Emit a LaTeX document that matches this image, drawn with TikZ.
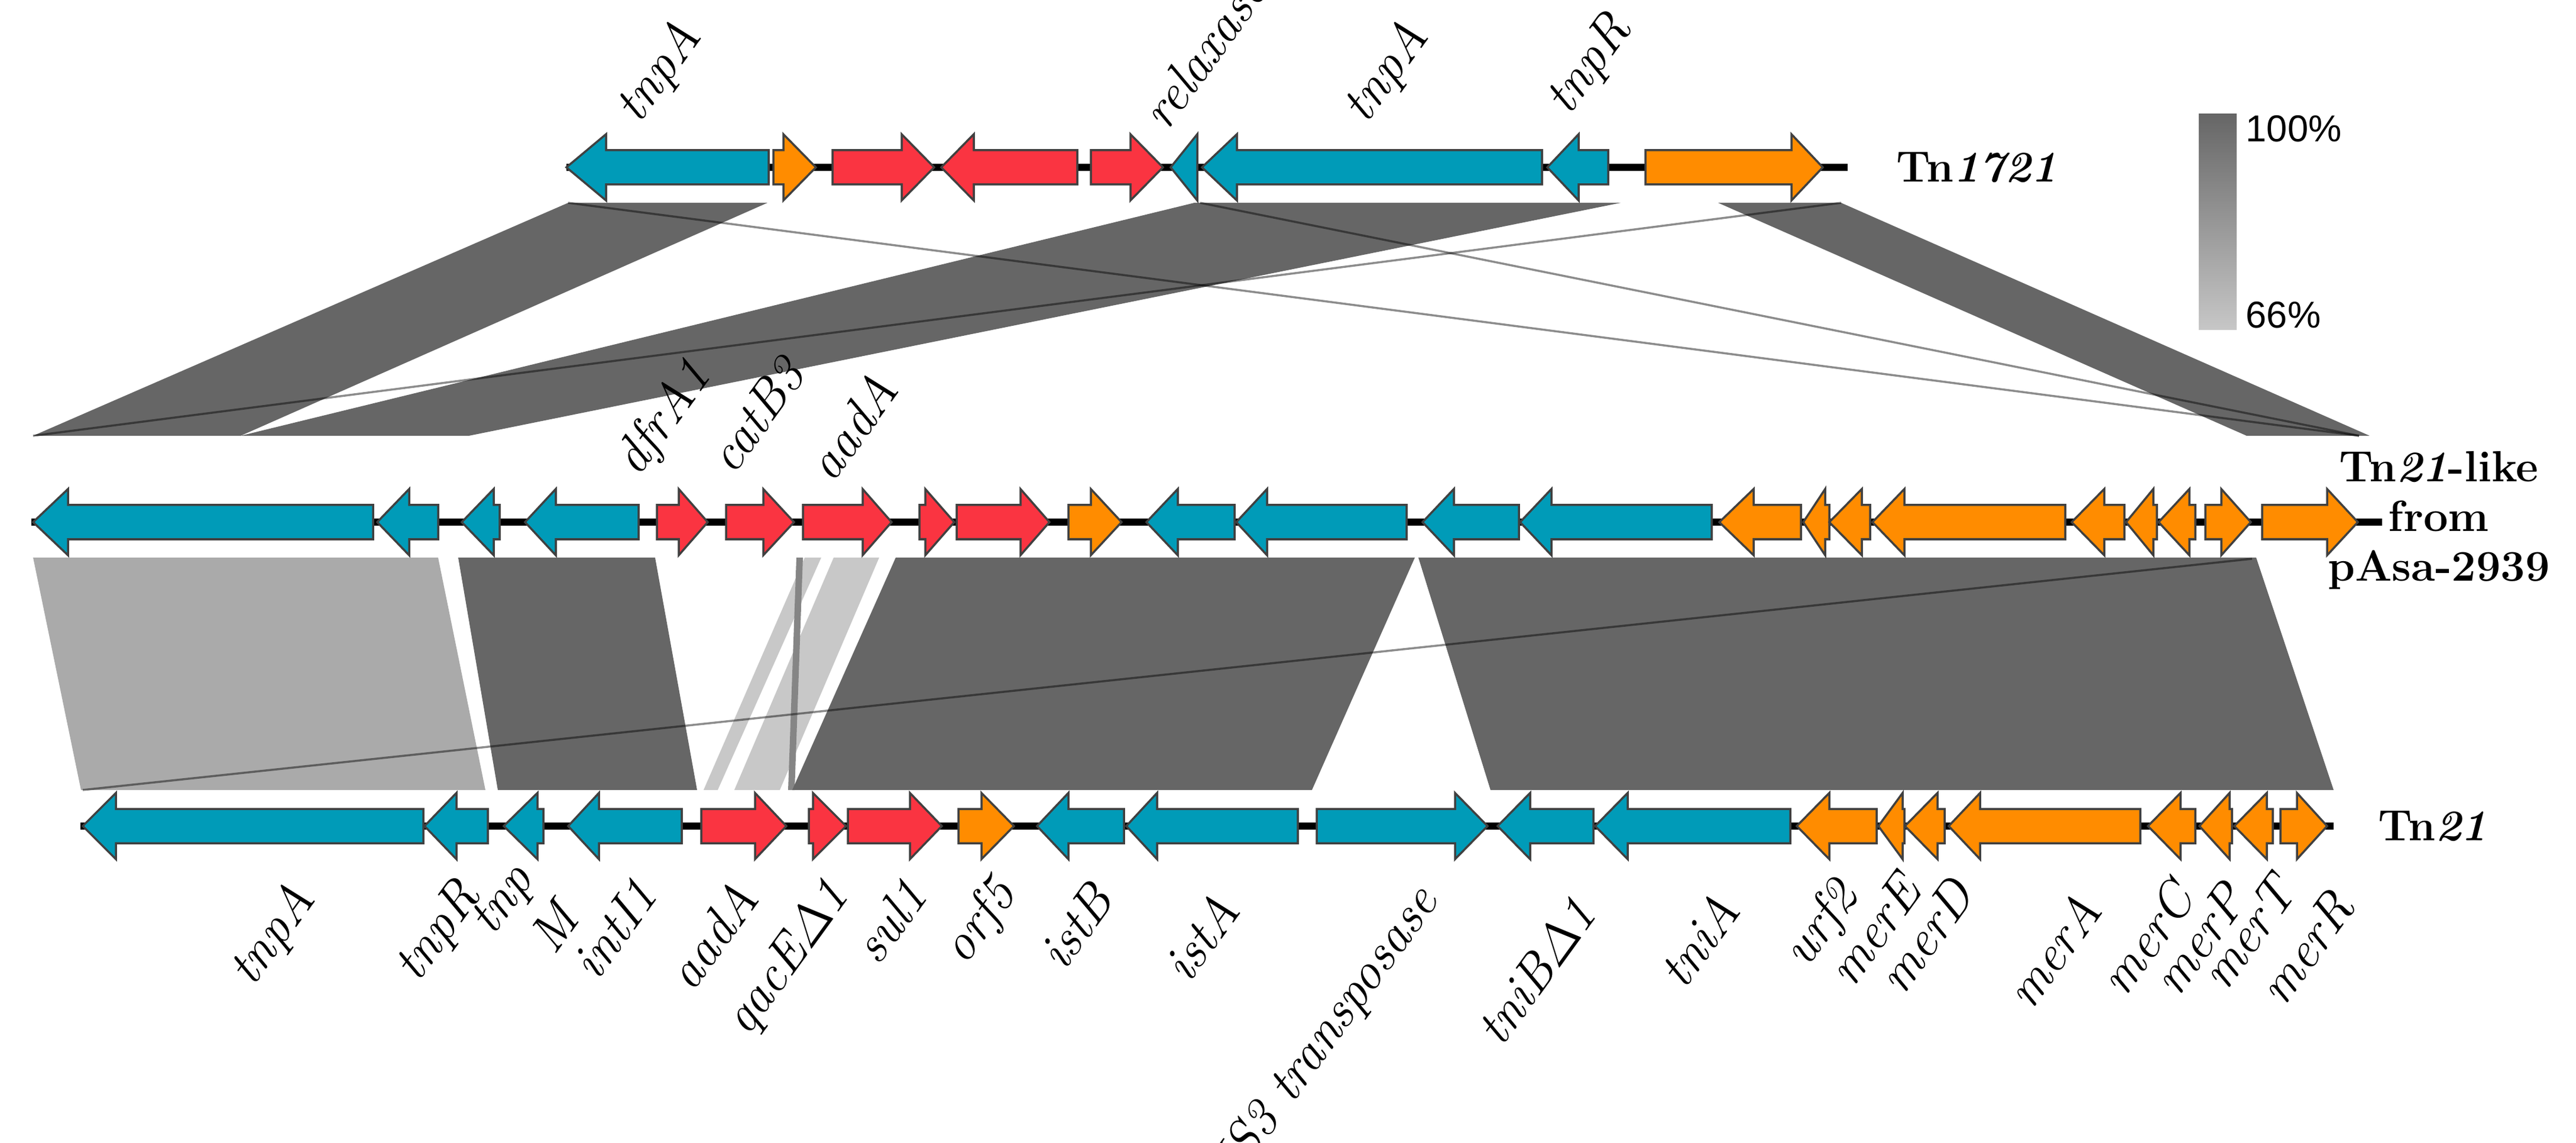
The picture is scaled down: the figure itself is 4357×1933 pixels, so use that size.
\documentclass[tikz,border=0pt]{standalone}
\usepackage{amsmath}
\usepackage{fontspec}
\newfontfamily\legendfont{Liberation Sans}
\definecolor{gblue}{HTML}{009BB8}
\definecolor{gred}{HTML}{FA3441}
\definecolor{gorange}{HTML}{FF8C00}
\definecolor{bdark}{HTML}{666666}
\definecolor{bmid}{HTML}{AAAAAA}
\definecolor{blight}{HTML}{C8C8C8}
\newcommand{\gn}[5]{% end, headbase, tip, y, colour
  \draw[gene,fill=#5] (#1,#4-29) -- (#2,#4-29) -- (#2,#4-56) -- (#3,#4) -- (#2,#4+56) -- (#2,#4+29) -- (#1,#4+29) -- cycle;}
\begin{document}
\begin{tikzpicture}[x=0.1mm,y=-0.1mm,
  gene/.style={draw=black!75,line width=0.35mm,line join=miter},
  backbone/.style={line width=1.2mm,black},
  thin/.style={black,opacity=0.45,line width=0.35mm},
  lbl/.style={font=\fontsize{25}{28}\selectfont\itshape,inner sep=1pt},
  up/.style={lbl,rotate=54,anchor=south west},
  dn/.style={lbl,rotate=54,anchor=north east},
  tname/.style={font=\fontsize{21}{25}\selectfont\bfseries,align=center}]
\useasboundingbox (0,0) rectangle (4357,1933);
% ---- bands top
\fill[bdark] (961,343) -- (1298,343) -- (407,737) -- (56,737) -- cycle;
\fill[bdark] (2020,343) -- (2741,343) -- (793,737) -- (407,737) -- cycle;
\fill[bdark] (2906,343) -- (3114,343) -- (4008,737) -- (3800,737) -- cycle;
\draw[thin] (2030,343) -- (3990,737);
\draw[thin] (961,343) -- (3990,737);
\draw[thin] (56,737) -- (3114,343);
% ---- bands bottom
\fill[bmid] (56,943) -- (741,943) -- (821,1336) -- (137,1336) -- cycle;
\fill[bdark] (775,943) -- (1108,943) -- (1179,1336) -- (842,1336) -- cycle;
\fill[blight] (1361,943) -- (1389,943) -- (1214,1336) -- (1190,1336) -- cycle;
\fill[blight] (1410,943) -- (1487,943) -- (1319,1336) -- (1242,1336) -- cycle;
\fill[bdark!80] (1347,943) -- (1358,943) -- (1344,1336) -- (1333,1336) -- cycle;
\fill[bdark] (1515,943) -- (2393,943) -- (2219,1336) -- (1340,1336) -- cycle;
\fill[bdark] (2399,943) -- (3816,943) -- (3947,1336) -- (2521,1336) -- cycle;
\draw[thin] (140,1336) -- (3809,945);
% ---- Tn1721 row
\draw[backbone] (958,283) -- (3125,283);
\gn{1300}{1025}{958}{283}{gblue}
\gn{1308}{1325}{1380}{283}{gorange}
\gn{1408}{1525}{1580}{283}{gred}
\gn{1822}{1647}{1592}{283}{gred}
\gn{1845}{1912}{1967}{283}{gred}
\gn{2025}{2025}{1980}{283}{gblue}
\gn{2608}{2092}{2033}{283}{gblue}
\gn{2720}{2670}{2617}{283}{gblue}
\gn{2783}{3030}{3083}{283}{gorange}
\node[tname,anchor=west] (t1721) at (3195,283) {Tn\textit{1721}};
\node[up] (u1) at (1095,227) {tnpA};
\node[up] (u2) at (1975,230) {relaxase};
\node[up] (u3) at (2325,227) {tnpA};
\node[up] (u4) at (2668,213) {tnpR};
% ---- Tn21-like row
\draw[backbone] (53,883) -- (4029,883);
\gn{631}{115}{56}{883}{gblue}
\gn{741}{692}{638}{883}{gblue}
\gn{845}{835}{781}{883}{gblue}
\gn{1080}{940}{888}{883}{gblue}
\gn{1111}{1148}{1197}{883}{gred}
\gn{1228}{1291}{1343}{883}{gred}
\gn{1358}{1459}{1508}{883}{gred}
\gn{1555}{1565}{1614}{883}{gred}
\gn{1618}{1726}{1775}{883}{gred}
\gn{1807}{1845}{1897}{883}{gorange}
\gn{2088}{1992}{1939}{883}{gblue}
\gn{2379}{2143}{2091}{883}{gblue}
\gn{2569}{2459}{2406}{883}{gblue}
\gn{2895}{2624}{2571}{883}{gblue}
\gn{3046}{2966}{2908}{883}{gorange}
\gn{3094}{3087}{3050}{883}{gorange}
\gn{3163}{3149}{3094}{883}{gorange}
\gn{3493}{3221}{3167}{883}{gorange}
\gn{3593}{3559}{3504}{883}{gorange}
\gn{3648}{3642}{3596}{883}{gorange}
\gn{3713}{3703}{3651}{883}{gorange}
\gn{3730}{3757}{3807}{883}{gorange}
\gn{3826}{3936}{3988}{883}{gorange}
\node[tname] (t21like) at (4125,880) {Tn\textit{21}-like\\[-1pt] from\\[-1pt] pAsa-2939};
\node[up] (m1) at (1095,825) {dfrA1};
\node[up] (m2) at (1243,812) {catB3};
\node[up] (m3) at (1410,825) {aadA};
% ---- Tn21 row
\draw[backbone] (136,1397) -- (3947,1397);
\gn{716}{196}{140}{1397}{gblue}
\gn{825}{772}{718}{1397}{gblue}
\gn{919}{909}{852}{1397}{gblue}
\gn{1153}{1013}{961}{1397}{gblue}
\gn{1186}{1277}{1330}{1397}{gred}
\gn{1368}{1375}{1431}{1397}{gred}
\gn{1434}{1539}{1593}{1397}{gred}
\gn{1621}{1660}{1715}{1397}{gorange}
\gn{1901}{1807}{1754}{1397}{gblue}
\gn{2195}{1957}{1905}{1397}{gblue}
\gn{2227}{2461}{2516}{1397}{gblue}
\gn{2695}{2588}{2533}{1397}{gblue}
\gn{3028}{2753}{2698}{1397}{gblue}
\gn{3174}{3094}{3039}{1397}{gorange}
\gn{3221}{3218}{3177}{1397}{gorange}
\gn{3289}{3277}{3222}{1397}{gorange}
\gn{3620}{3349}{3296}{1397}{gorange}
\gn{3713}{3688}{3633}{1397}{gorange}
\gn{3775}{3771}{3720}{1397}{gorange}
\gn{3844}{3834}{3779}{1397}{gorange}
\gn{3857}{3885}{3936}{1397}{gorange}
\node[tname,anchor=west] (t21) at (4010,1397) {Tn\textit{21}};
\node[dn] (b1) at (484,1478) {tnpA};
\node[dn] (b2) at (765,1474) {tnpR};
\node[dn] (b3) at (859,1449) {tnp};
\node[dn] (b4) at (933,1514) {M};
\node[dn] (b5) at (1066,1474) {intI1};
\node[dn] (b6) at (1235,1478) {aadA};
\node[dn] (b7) at (1389,1474) {qacE$\varDelta$1};
\node[dn] (b8) at (1522,1474) {sul1};
\node[dn] (b9) at (1670,1470) {orf5};
\node[dn] (b10) at (1838,1482) {istB};
\node[dn] (b11) at (2049,1498) {istA};
\node[dn] (b12) at (2384,1482) {IS3 transposase};
\node[dn] (b13) at (2654,1506) {tniB$\varDelta$1};
\node[dn] (b14) at (2895,1498) {tniA};
\node[dn] (b15) at (3094,1474) {urf2};
\node[dn] (b16) at (3204,1466) {merE};
\node[dn] (b17) at (3293,1474) {merD};
\node[dn] (b18) at (3507,1498) {merA};
\node[dn] (b19) at (3665,1478) {merC};
\node[dn] (b20) at (3754,1482) {merP};
\node[dn] (b21) at (3837,1470) {merT};
\node[dn] (b22) at (3936,1494) {merR};
% ---- legend
\shade[top color=bdark,bottom color=black!22] (3719,193) rectangle (3783,558);
\node[font=\legendfont\fontsize{18}{20}\selectfont,anchor=west,inner sep=0] (l100) at (3798,218) {100\%};
\node[font=\legendfont\fontsize{18}{20}\selectfont,anchor=west,inner sep=0] (l66) at (3798,533) {66\%};
\end{tikzpicture}
\end{document}
